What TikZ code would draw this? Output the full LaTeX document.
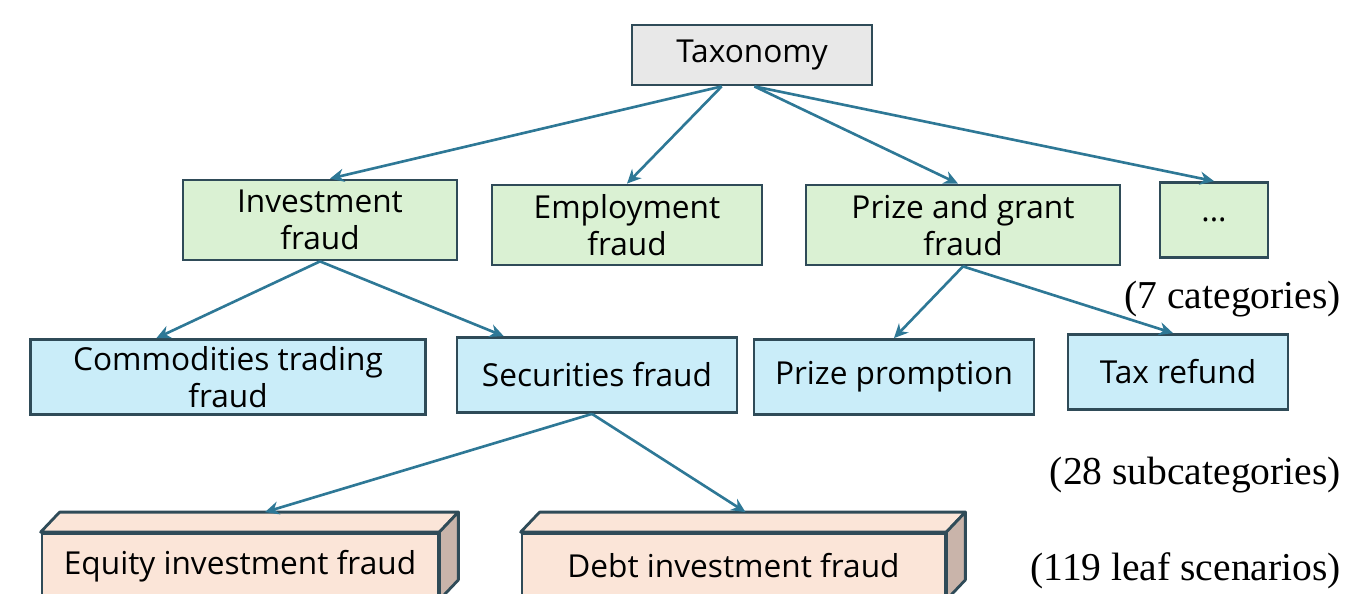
\documentclass[tikz,border=0pt]{standalone}
\usepackage{fontspec}
\setmainfont{Liberation Serif}
\setsansfont{Open Sans}
\usepackage{tikz}
\usetikzlibrary{positioning,arrows.meta,calc}

\definecolor{boxline}{HTML}{2F4B58}
\definecolor{arrowblue}{HTML}{2E7896}
\definecolor{rootgray}{HTML}{E8E8E8}
\definecolor{catgreen}{HTML}{DAF1D3}
\definecolor{subblue}{HTML}{CAEDF9}
\definecolor{leafpink}{HTML}{FBE5D8}
\definecolor{leafside}{HTML}{C9B4AA}

\tikzset{
  box/.style={draw=boxline, line width=1.6pt, inner sep=0pt, align=center,
    font=\sffamily\fontsize{18}{21}\selectfont},
  cat/.style={box, fill=catgreen, minimum height=1.6cm},
  sub/.style={box, fill=subblue, minimum height=1.5cm},
  leaf/.style={box, fill=leafpink, minimum height=1.3cm},
  face/.style={draw=boxline, line width=1.6pt, line join=round},
  count/.style={anchor=east, font=\fontsize{22.5}{26}\selectfont},
  link/.style={->, draw=arrowblue, line width=1.5pt}
}

\begin{document}
\begin{tikzpicture}[x=0.02cm, y=-0.02cm, >={Stealth[length=8pt,width=7.5pt]}]
\useasboundingbox (0,0) rectangle (1353,593);

% root
\node[box, fill=rootgray, minimum width=4.8cm, minimum height=1.2cm] (tax) at (752,55) {Taxonomy};

% categories
\node[cat, minimum width=5.48cm] (inv) at (320,220) {Investment\\fraud};
\node[cat, minimum width=5.4cm] (emp) at (627,225) {Employment\\fraud};
\node[cat, minimum width=6.28cm] (prize) at (963,225) {Prize and grant\\fraud};
\node[cat, minimum width=2.16cm, minimum height=1.5cm] (more) at (1214,220) {...};

% subcategories
\node[sub, minimum width=7.9cm] (comm) at (228,377) {Commodities trading\\fraud};
\node[sub, minimum width=5.6cm] (sec) at (597,375) {Securities fraud};
\node[sub, minimum width=5.6cm] (promo) at (894,377) {Prize promption};
\node[sub, minimum width=4.4cm] (refund) at (1178,372) {Tax refund};

% leaf scenarios (boxes with top and side face)
\node[leaf, minimum width=7.92cm] (eq) at (240,566) {Equity investment fraud};
\node[leaf, minimum width=8.46cm] (debt) at (733.5,566) {Debt investment fraud};
\foreach \n in {eq,debt} {
  \draw[face, fill=leafpink] (\n.north west) -- ++(19,-20) -- ($(\n.north east)+(19,-20)$) -- (\n.north east) -- cycle;
  \draw[face, fill=leafside] (\n.north east) -- ++(19,-20) -- ($(\n.south east)+(19,-20)$) -- (\n.south east) -- cycle;
}

% counts
\node[count] (ncat) at (1347,299) {(7 categories)};
\node[count] (nsub) at (1347,475) {(28 subcategories)};
\node[count] (nleaf) at (1347,571) {(119 leaf scenarios)};

% arrows
\draw[link] ($(tax.south west)!0.375!(tax.south east)$) -- ($(inv.north)+(10,0)$);
\draw[link] ($(tax.south west)!0.375!(tax.south east)$) -- (emp.north);
\draw[link] ($(tax.south west)!0.51!(tax.south east)$) -- ($(prize.north)+(-5,0)$);
\draw[link] ($(tax.south west)!0.51!(tax.south east)$) -- (more.north);
\draw[link] (inv.south) -- ($(comm.north west)!0.32!(comm.north east)$);
\draw[link] (inv.south) -- ($(sec.north west)!0.17!(sec.north east)$);
\draw[link] (prize.south) -- (promo.north);
\draw[link] (prize.south) -- ($(refund.north)+(-5,0)$);
\draw[link] ($(sec.south)+(-5,0)$) -- ($(eq.north)+(25,-20)$);
\draw[link] ($(sec.south)+(-5,0)$) -- ($(debt.north)+(12,-20)$);
\end{tikzpicture}
\end{document}
